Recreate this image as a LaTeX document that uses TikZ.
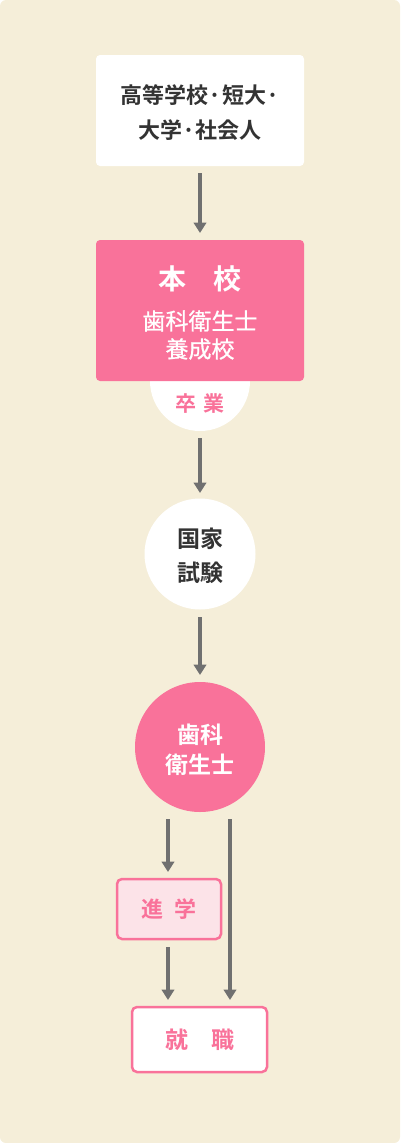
\documentclass[tikz,border=0pt]{standalone}
\usepackage{fontspec}
\setmainfont{Noto Sans CJK JP}
\newfontfamily\jpb{Noto Sans CJK JP Bold}
\newfontfamily\jpm[FakeBold=0.8]{Noto Sans CJK JP}
\usetikzlibrary{arrows.meta}
\definecolor{bg}{HTML}{F5EED9}
\definecolor{pk}{HTML}{F9729A}
\definecolor{pkl}{HTML}{FCE3E8}
\definecolor{ar}{HTML}{707070}
\definecolor{tx}{HTML}{333333}
\tikzset{
  flow/.style={draw=ar,line width=3.4pt,-{Triangle[width=12.5pt,length=10.5pt]}},
  txt/.style={align=center,inner sep=0pt},
}
\begin{document}
\begin{tikzpicture}[x=1pt,y=-1pt]
\useasboundingbox (0,0) rectangle (400,1143);
\fill[bg,rounded corners=6pt] (0,0) rectangle (400,1143);
% top box
\fill[white,rounded corners=4pt] (96,55) rectangle (304,166);
\node[txt,text=tx,font=\fontsize{22}{35}\selectfont\jpb] (top) at (200,113) {高等学校·短大·\\大学·社会人};
% circle sotsugyo
\fill[white] (200,381) circle (50);
\node[txt,text=pk,font=\fontsize{21}{24}\selectfont\jpb] (sotsu) at (200,404) {卒\hspace{7pt}業};
% pink box
\fill[pk,rounded corners=4pt] (96,240) rectangle (304,381);
\node[txt,text=white,font=\fontsize{28}{30}\selectfont\jpb] (honko) at (200,279) {本\hspace{27pt}校};
\node[txt,text=white,font=\fontsize{23}{28}\selectfont\jpm] (yosei) at (200,335) {歯科衛生士\\養成校};
% kokka circle
\node[circle,fill=white,minimum size=111pt,inner sep=0pt] (kokka) at (200,554) {};
\node[txt,text=tx,font=\fontsize{23}{34}\selectfont\jpb] at (200,556) {国家\\試験};
% dh circle
\node[circle,fill=pk,minimum size=130pt,inner sep=0pt] (dh) at (200,747) {};
\node[txt,text=white,font=\fontsize{23}{30}\selectfont\jpb] at (200,750) {歯科\\衛生士};
% shingaku
\node[draw=pk,fill=pkl,line width=2.5pt,rounded corners=5pt,minimum width=104pt,minimum height=60pt,text=pk,font=\fontsize{22}{24}\selectfont\jpb] (shin) at (169,909) {進\hspace{11pt}学};
% shushoku
\node[draw=pk,fill=white,line width=2.5pt,rounded corners=5pt,minimum width=135pt,minimum height=65pt,text=pk,font=\fontsize{23}{24}\selectfont\jpb] (shu) at (199.5,1039.5) {就\hspace{23pt}職};
% arrows
\coordinate (a1s) at (200,173); \coordinate (a1e) at (200,233);
\draw[flow] (a1s) -- (a1e);
\coordinate (a2s) at (200,438); \coordinate (a2e) at (200,493);
\draw[flow] (a2s) -- (a2e);
\coordinate (a3s) at (200,617); \coordinate (a3e) at (200,675);
\draw[flow] (a3s) -- (a3e);
\coordinate (a4s) at (168,819); \coordinate (a4e) at (168,872);
\draw[flow] (a4s) -- (a4e);
\coordinate (a5s) at (230,819); \coordinate (a5e) at (230,1000);
\draw[flow] (a5s) -- (a5e);
\coordinate (a6s) at (168,947); \coordinate (a6e) at (168,1000);
\draw[flow] (a6s) -- (a6e);
\end{tikzpicture}
\end{document}
